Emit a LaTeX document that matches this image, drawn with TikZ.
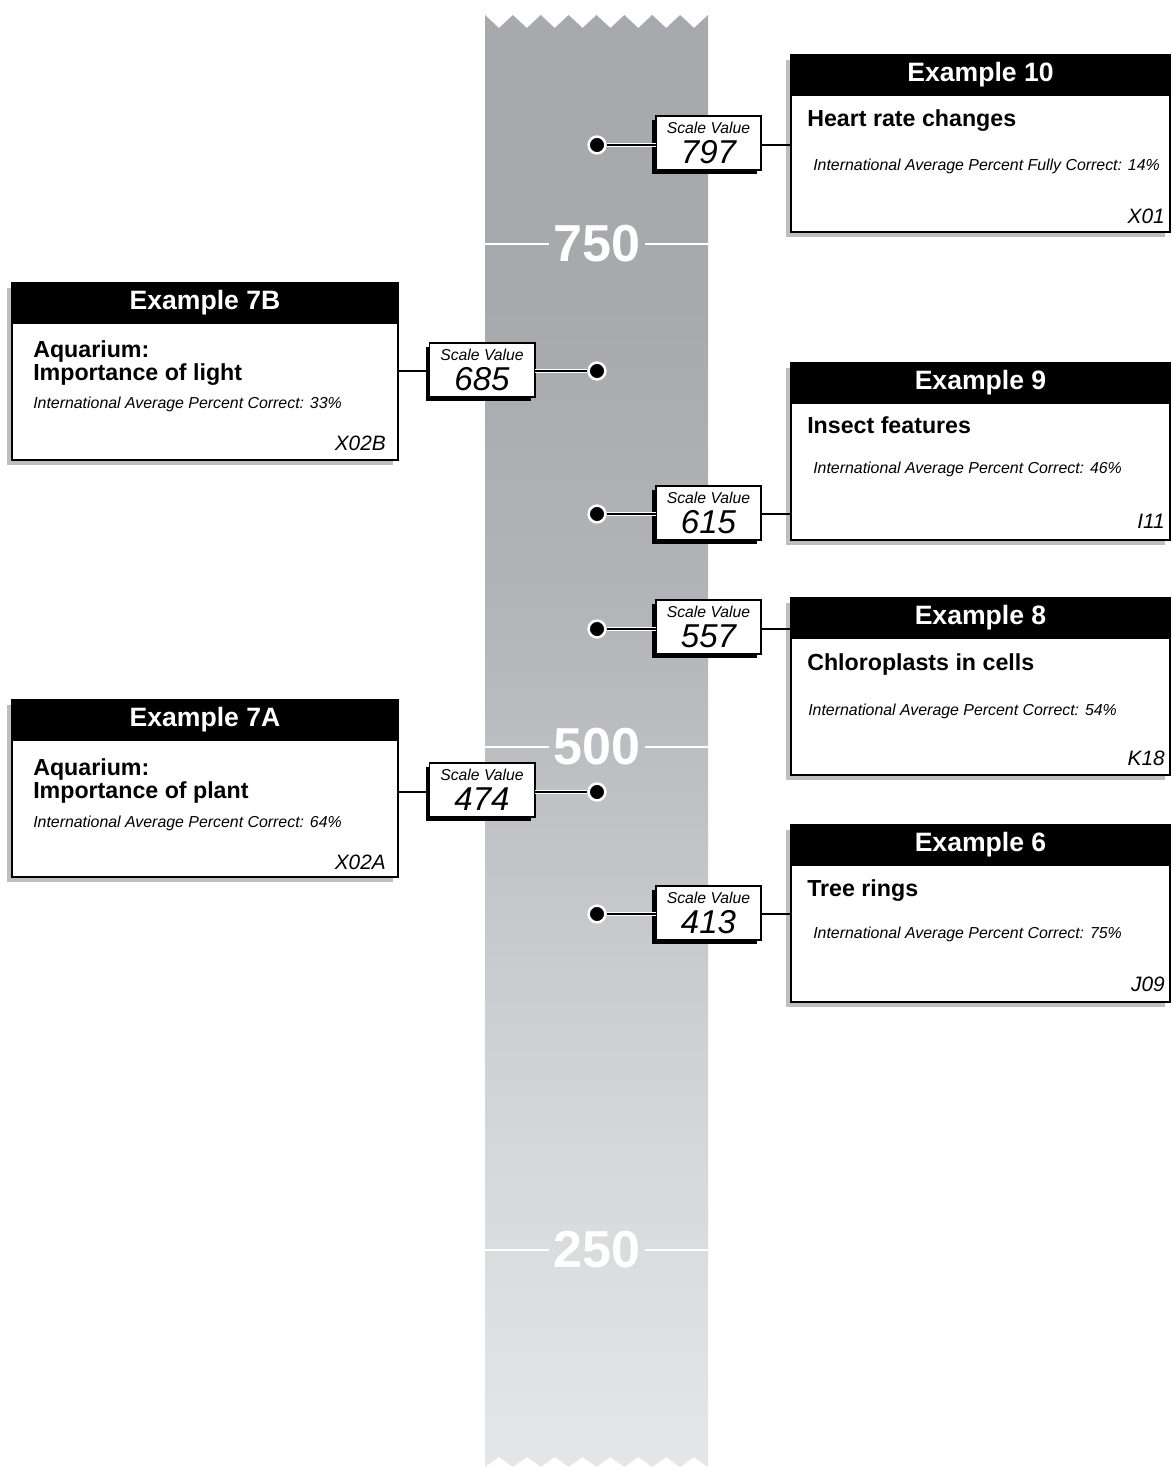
\documentclass[tikz,border=0pt]{standalone}
\usepackage{fontspec}
\setmainfont{Liberation Sans}
\usetikzlibrary{shadows}
\definecolor{stripA}{RGB}{168,169,173}
\definecolor{stripB}{RGB}{179,180,184}
\definecolor{stripC}{RGB}{198,199,202}
\definecolor{stripD}{RGB}{214,215,217}
\definecolor{stripE}{RGB}{229,230,232}
\definecolor{boxshadow}{RGB}{190,190,190}
\begin{document}
\begin{tikzpicture}[x=0.025cm, y=-0.025cm,
 exbox/.style={draw, line width=1.4pt, fill=white, inner sep=0pt, outer sep=0pt, minimum height=4.425cm,
  drop shadow={shadow xshift=-0.13cm, shadow yshift=-0.13cm, fill=boxshadow, opacity=1}},
 rbox/.style={exbox, minimum width=9.475cm},
 lbox/.style={exbox, minimum width=9.65cm},
 exhead/.style={draw, fill=black, line width=1.4pt, text=white, inner sep=0pt, outer sep=0pt,
  minimum height=1cm, anchor=north, font=\fontsize{18.9}{20}\selectfont\bfseries},
 extitle/.style={anchor=base west, inner sep=0pt, font=\fontsize{16.5}{17}\selectfont\bfseries},
 expct/.style={anchor=base west, inner sep=0pt, font=\fontsize{11.3}{12}\selectfont\itshape},
 excode/.style={anchor=base east, inner sep=0pt, font=\fontsize{14.8}{15}\selectfont\itshape},
 svbox/.style={draw, line width=1.4pt, fill=white, minimum width=2.625cm, minimum height=1.35cm,
  inner sep=0pt, outer sep=0pt,
  drop shadow={shadow xshift=-0.09cm, shadow yshift=-0.09cm, fill=black, opacity=1}},
 svlabel/.style={inner sep=0pt, font=\fontsize{11.2}{12}\selectfont\itshape},
 svnum/.style={inner sep=0pt, font=\fontsize{23.5}{24}\selectfont\itshape},
 valdot/.style={circle, fill=black, draw=white, line width=1.8pt, minimum size=0.42cm, inner sep=0pt},
 scalemark/.style={text=white, inner xsep=0.12cm, inner ysep=0pt, font=\fontsize{37}{38}\selectfont\bfseries},
 link/.style={line width=1.4pt},
 cased/.style={draw=white, double=black, line width=1pt, double distance=1.4pt}
]
 \useasboundingbox (0,0) rectangle (1171,1467);

 % the scale strip
 \begin{scope}
  \clip (485,15) \foreach \i in {0,...,7} { -- ({498.94+27.875*\i},28) -- ({512.875+27.875*\i},15) }
   -- (708,1467) \foreach \i in {7,...,0} { -- ({498.94+27.875*\i},1457) -- ({485+27.875*\i},1467) } -- cycle;
  \fill[stripA] (480,0) rectangle (712,301);
  \shade[top color=stripA, bottom color=stripB] (480,300) rectangle (712,601);
  \shade[top color=stripB, bottom color=stripC] (480,600) rectangle (712,901);
  \shade[top color=stripC, bottom color=stripD] (480,900) rectangle (712,1151);
  \shade[top color=stripD, bottom color=stripE] (480,1150) rectangle (712,1470);
 \end{scope}

 \node[scalemark] (m750) at (597,244) {750};
 \node[scalemark] (m500) at (597,747) {500};
 \node[scalemark] (m250) at (597,1250) {250};
 \draw[white, line width=1.5pt] (485,244) -- (m750.west) (m750.east) -- (708,244);
 \draw[white, line width=1.5pt] (485,747) -- (m500.west) (m500.east) -- (708,747);
 \draw[white, line width=1.5pt] (485,1250) -- (m250.west) (m250.east) -- (708,1250);

 % points on the scale
 \node[valdot] (d797) at (597,145) {};
 \node[valdot] (d685) at (597,371) {};
 \node[valdot] (d615) at (597,514) {};
 \node[valdot] (d557) at (597,629) {};
 \node[valdot] (d474) at (597,792) {};
 \node[valdot] (d413) at (597,914) {};

 % scale values
 \node[svbox] (sv797) at (708.5,143) {};
 \node[svlabel] (svl797) at (708.5,128) {Scale Value};
 \node[svnum] (svn797) at (708.5,152) {797};
 \node[svbox] (sv685) at (482,370) {};
 \node[svlabel] (svl685) at (482,355) {Scale Value};
 \node[svnum] (svn685) at (482,379) {685};
 \node[svbox] (sv615) at (708.5,513) {};
 \node[svlabel] (svl615) at (708.5,498) {Scale Value};
 \node[svnum] (svn615) at (708.5,522) {615};
 \node[svbox] (sv557) at (708.5,627) {};
 \node[svlabel] (svl557) at (708.5,612) {Scale Value};
 \node[svnum] (svn557) at (708.5,636) {557};
 \node[svbox] (sv474) at (482,790) {};
 \node[svlabel] (svl474) at (482,775) {Scale Value};
 \node[svnum] (svn474) at (482,799) {474};
 \node[svbox] (sv413) at (708.5,913) {};
 \node[svlabel] (svl413) at (708.5,898) {Scale Value};
 \node[svnum] (svn413) at (708.5,922) {413};

 % example boxes, right
 \node[rbox] (ex10) at (980.5,143.5) {};
 \node[exhead, minimum width=9.475cm] (h10) at (ex10.north) {Example 10};
 \node[extitle] (t10) at (807,126.4) {Heart rate changes};
 \node[expct] (p10) at (813,170.7) {International Average Percent Fully Correct: 14\%};
 \node[excode] (c10) at (1165,223.5) {X01};

 \node[rbox] (ex9) at (980.5,451.5) {};
 \node[exhead, minimum width=9.475cm] (h9) at (ex9.north) {Example 9};
 \node[extitle] (t9) at (807,433.4) {Insect features};
 \node[expct] (p9) at (813,473.7) {International Average Percent Correct: 46\%};
 \node[excode] (c9) at (1165,528.5) {I11};

 \node[rbox] (ex8) at (980.5,686.5) {};
 \node[exhead, minimum width=9.475cm] (h8) at (ex8.north) {Example 8};
 \node[extitle] (t8) at (807,670.4) {Chloroplasts in cells};
 \node[expct] (p8) at (808,715.7) {International Average Percent Correct: 54\%};
 \node[excode] (c8) at (1165,765.5) {K18};

 \node[rbox] (ex6) at (980.5,913.5) {};
 \node[exhead, minimum width=9.475cm] (h6) at (ex6.north) {Example 6};
 \node[extitle] (t6) at (807,896.4) {Tree rings};
 \node[expct] (p6) at (813,938.7) {International Average Percent Correct: 75\%};
 \node[excode] (c6) at (1165,991.5) {J09};

 % example boxes, left
 \node[lbox] (ex7B) at (205,371.5) {};
 \node[exhead, minimum width=9.65cm] (h7B) at (ex7B.north) {Example 7B};
 \node[extitle] (t7Ba) at (33,357.4) {Aquarium:};
 \node[extitle] (t7Bb) at (33,380.4) {Importance of light};
 \node[expct] (p7B) at (33,408.7) {International Average Percent Correct: 33\%};
 \node[excode] (c7B) at (386,450.5) {X02B};

 \node[lbox] (ex7A) at (205,788.5) {};
 \node[exhead, minimum width=9.65cm] (h7A) at (ex7A.north) {Example 7A};
 \node[extitle] (t7Aa) at (33,775.4) {Aquarium:};
 \node[extitle] (t7Ab) at (33,798.4) {Importance of plant};
 \node[expct] (p7A) at (33,827.7) {International Average Percent Correct: 64\%};
 \node[excode] (c7A) at (386,869.5) {X02A};

 % connectors
 \draw[cased] (d797) -- (d797 -| sv797.west);
 \draw[link] (d797 -| sv797.east) -- (d797 -| ex10.west);
 \draw[cased] (d685) -- (d685 -| sv685.east);
 \draw[link] (d685 -| sv685.west) -- (d685 -| ex7B.east);
 \draw[cased] (d615) -- (d615 -| sv615.west);
 \draw[link] (d615 -| sv615.east) -- (d615 -| ex9.west);
 \draw[cased] (d557) -- (d557 -| sv557.west);
 \draw[link] (d557 -| sv557.east) -- (d557 -| ex8.west);
 \draw[cased] (d474) -- (d474 -| sv474.east);
 \draw[link] (d474 -| sv474.west) -- (d474 -| ex7A.east);
 \draw[cased] (d413) -- (d413 -| sv413.west);
 \draw[link] (d413 -| sv413.east) -- (d413 -| ex6.west);
\end{tikzpicture}
\end{document}
